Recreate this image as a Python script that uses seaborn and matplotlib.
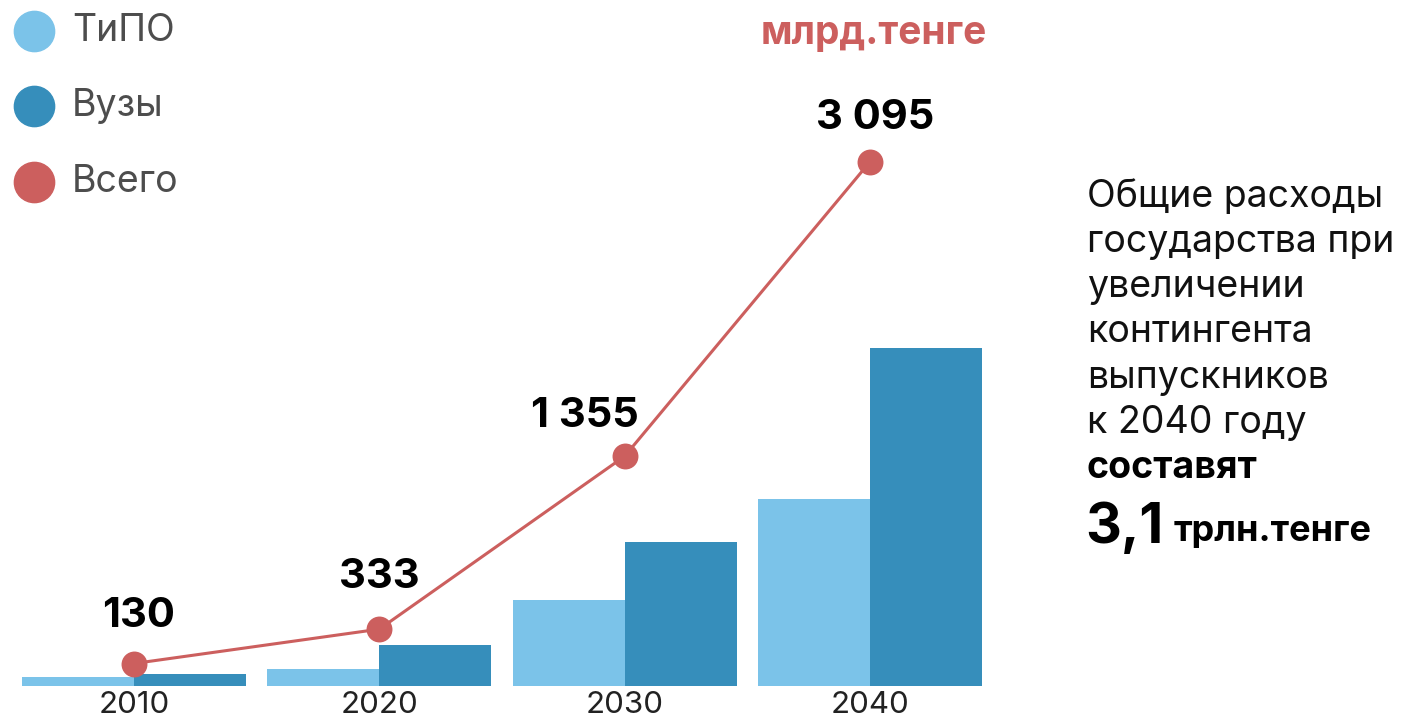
import numpy as np
import pandas as pd
import matplotlib
matplotlib.use("Agg")
import matplotlib.pyplot as plt
import seaborn as sns
from matplotlib.lines import Line2D

# ---- data ----
years = ["2010", "2020", "2030", "2040"]
tipo = [50, 96, 508, 1100]
vuzy = [68, 239, 850, 1995]
total = [130, 333, 1355, 3095]
series_names = ["ТиПО", "Вузы", "Всего"]
total_labels = ["130", "333", "1 355", "3 095"]
unit_label = "млрд.тенге"
side_lines = ["Общие расходы", "государства при", "увеличении",
              "контингента", "выпускников", "к 2040 году"]
side_bold = "составят"
side_big = "3,1"
side_big_unit = "трлн.тенге"

# ---- style ----
C_TIPO = "#7BC3E9"
C_VUZY = "#368EBB"
C_TOTAL = "#CC5F5E"
W, H = 1409, 724
DPI = 100

sns.set_theme(style="white")
plt.rcParams["font.family"] = ["Inter", "DejaVu Sans"]

fig = plt.figure(figsize=(W / DPI, H / DPI), dpi=DPI)

def fx(px):
    return px / W

def fy(py):
    return 1 - py / H

# axes placement (pixels): x from 11.4 to 992.6, y from 0 to 685.5
ax_left, ax_right, ax_top, ax_bottom = 11.4, 992.6, 0.0, 685.5
ax = fig.add_axes([fx(ax_left), fy(ax_bottom), (ax_right - ax_left) / W,
                   (ax_bottom - ax_top) / H])

df = pd.DataFrame({
    "year": years * 2,
    "type": [series_names[0]] * 4 + [series_names[1]] * 4,
    "value": tipo + vuzy,
})

sns.barplot(data=df, x="year", y="value", hue="type",
            palette=[C_TIPO, C_VUZY], saturation=1, width=0.913,
            linewidth=0, ax=ax, legend=False)

sns.pointplot(x=years, y=total, color=C_TOTAL, errorbar=None, ax=ax,
              markers="o", markersize=17, linewidth=2.2)

px_per_unit = 0.1692
ax.set_xlim(-0.5, 3.5)
ax.set_ylim(0, (ax_bottom - ax_top) / px_per_unit)
sns.despine(ax=ax, left=True, bottom=True, top=True, right=True)
ax.set_yticks([])
ax.set_xlabel("")
ax.set_ylabel("")
ax.tick_params(axis="x", length=0, pad=4, labelsize=22.5, labelcolor="#222222")

# value labels above points
offsets = [(4, 48), (0, 52), (-40, 40), (5, 44)]
for i, (lab, (dx, dy)) in enumerate(zip(total_labels, offsets)):
    ax.annotate(lab, xy=(i, total[i]), xytext=(dx * 0.72, dy * 0.72),
                textcoords="offset points", ha="center", va="center",
                fontsize=30, fontweight="bold", color="#000000")

# unit label
fig.text(fx(874), fy(33), unit_label, ha="center", va="center",
         fontsize=28, fontweight="bold", color=C_TOTAL)

# legend (manual)
leg_colors = [C_TIPO, C_VUZY, C_TOTAL]
leg_y = [31, 106, 182]
for name, col, y in zip(series_names, leg_colors, leg_y):
    fig.add_artist(Line2D([fx(34)], [fy(y)], marker="o", markersize=29,
                          color=col, linestyle="none",
                          transform=fig.transFigure))
    fig.text(fx(72), fy(y), name, ha="left", va="center",
             fontsize=27, color="#4D4D4D")

# side text
line_y = [197, 242, 287, 332, 378, 423]
for txt, y in zip(side_lines, line_y):
    fig.text(fx(1087), fy(y), txt, ha="left", va="center",
             fontsize=27, color="#111111")
fig.text(fx(1087), fy(468), side_bold, ha="left", va="center",
         fontsize=27, fontweight="bold", color="#000000")
t_big = fig.text(fx(1085), fy(528), side_big, ha="left", va="center",
                 fontsize=40, fontweight="bold", color="#000000")
fig.canvas.draw()
bb = t_big.get_window_extent(renderer=fig.canvas.get_renderer())
fig.text((bb.x1 + 10) / W, fy(532), side_big_unit, ha="left", va="center",
         fontsize=26, fontweight="bold", color="#000000")

fig.savefig("out.png", dpi=DPI, facecolor="white")
